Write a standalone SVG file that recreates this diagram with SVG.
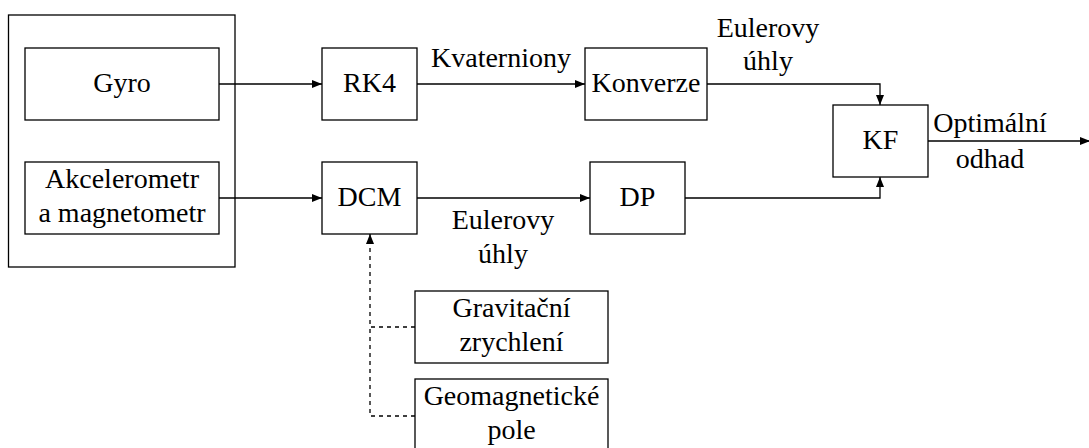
<svg xmlns="http://www.w3.org/2000/svg" width="1089" height="448" viewBox="0 0 1089 448">
<defs>
<marker id="arr" viewBox="0 0 10 10" refX="10" refY="5" markerWidth="10" markerHeight="10" markerUnits="userSpaceOnUse" orient="auto">
<path d="M0,1 L10,5 L0,9 Z" fill="#000"/>
</marker>
<style>
rect{fill:#fff;stroke:#000;stroke-width:1.3}
.c{fill:none;stroke:#000;stroke-width:1.3}
.d{stroke-dasharray:4 4}
</style>
</defs>
<rect x="0" y="0" width="1089" height="448" style="fill:#fff;stroke:none"/>
<g id="sensors"><rect x="8.5" y="15" width="226.5" height="252"/></g>
<g id="gyro"><rect x="25" y="48" width="194" height="72"/><text x="122" y="92" font-family="Liberation Serif, Times New Roman, serif" font-size="28" text-anchor="middle">Gyro</text></g>
<g id="akcel"><rect x="25" y="162" width="194" height="72"/><text x="122" y="188" font-family="Liberation Serif, Times New Roman, serif" font-size="28" text-anchor="middle">Akcelerometr</text><text x="122" y="221.5" font-family="Liberation Serif, Times New Roman, serif" font-size="28" text-anchor="middle">a magnetometr</text></g>
<g id="rk4"><rect x="322" y="48" width="95" height="72"/><text x="369.5" y="92" font-family="Liberation Serif, Times New Roman, serif" font-size="28" text-anchor="middle">RK4</text></g>
<g id="dcm"><rect x="322" y="162" width="95" height="72"/><text x="369.5" y="206" font-family="Liberation Serif, Times New Roman, serif" font-size="28" text-anchor="middle">DCM</text></g>
<g id="konverze"><rect x="585" y="48" width="122" height="72"/><text x="646" y="92" font-family="Liberation Serif, Times New Roman, serif" font-size="28" text-anchor="middle">Konverze</text></g>
<g id="dp"><rect x="590" y="162" width="95" height="72"/><text x="637.5" y="206" font-family="Liberation Serif, Times New Roman, serif" font-size="28" text-anchor="middle">DP</text></g>
<g id="kf"><rect x="833" y="105" width="95" height="72"/><text x="880.5" y="149" font-family="Liberation Serif, Times New Roman, serif" font-size="28" text-anchor="middle">KF</text></g>
<g id="grav"><rect x="415" y="291" width="193" height="72"/><text x="511.5" y="317" font-family="Liberation Serif, Times New Roman, serif" font-size="28" text-anchor="middle">Gravitační</text><text x="511.5" y="350.5" font-family="Liberation Serif, Times New Roman, serif" font-size="28" text-anchor="middle">zrychlení</text></g>
<g id="geomag"><rect x="415" y="379" width="193" height="80"/><text x="511.5" y="405" font-family="Liberation Serif, Times New Roman, serif" font-size="28" text-anchor="middle">Geomagnetické</text><text x="511.5" y="438.5" font-family="Liberation Serif, Times New Roman, serif" font-size="28" text-anchor="middle">pole</text></g>
<g id="connectors">
<path class="c" d="M219,84 H322" marker-end="url(#arr)"/>
<path class="c" d="M219,198 H322" marker-end="url(#arr)"/>
<path class="c" d="M417,84 H585" marker-end="url(#arr)"/>
<path class="c" d="M417,198 H590" marker-end="url(#arr)"/>
<path class="c" d="M707,84 H880 V105" marker-end="url(#arr)"/>
<path class="c" d="M685,198 H880 V177" marker-end="url(#arr)"/>
<path class="c" d="M928,141 H1090" marker-end="url(#arr)"/>
<path class="c d" d="M415,327 H370 V234" marker-end="url(#arr)"/>
<path class="c d" d="M415,416 H370 V327"/>
<text x="501" y="67" font-family="Liberation Serif, Times New Roman, serif" font-size="28" text-anchor="middle">Kvaterniony</text>
<text x="768" y="37" font-family="Liberation Serif, Times New Roman, serif" font-size="28" text-anchor="middle">Eulerovy</text>
<text x="768" y="70" font-family="Liberation Serif, Times New Roman, serif" font-size="28" text-anchor="middle">úhly</text>
<text x="503" y="229" font-family="Liberation Serif, Times New Roman, serif" font-size="28" text-anchor="middle">Eulerovy</text>
<text x="503" y="262.5" font-family="Liberation Serif, Times New Roman, serif" font-size="28" text-anchor="middle">úhly</text>
<text x="990" y="132" font-family="Liberation Serif, Times New Roman, serif" font-size="28" text-anchor="middle">Optimální</text>
<text x="990" y="168" font-family="Liberation Serif, Times New Roman, serif" font-size="28" text-anchor="middle">odhad</text>
</g>
</svg>
